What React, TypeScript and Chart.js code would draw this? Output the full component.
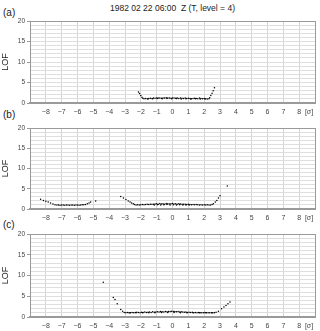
import { useEffect, useRef } from 'react';
import { Chart, registerables } from 'chart.js';

Chart.register(...registerables);

const TITLE = '1982 02 22 06:00  Z (T, level = 4)';
const PANEL_LABELS = ['(a)', '(b)', '(c)'];
const Y_TITLE = 'LOF';
const X_UNIT = '[σ]';
const X_MIN = -9;
const X_MAX = 9;
const Y_MIN = 0;
const Y_MAX = 20;
const Y_LABEL_STEP = 5;
const X_LABEL_LIMIT = 8;

// Panel (a)
const aX = [-2.15, -2.08, -2.0, -1.93, -1.87,
  -1.8, -1.7, -1.6, -1.5, -1.4, -1.3, -1.2, -1.1, -1.0, -0.9, -0.8, -0.7, -0.6, -0.5, -0.4, -0.3, -0.2, -0.1,
  0.0, 0.1, 0.2, 0.3, 0.4, 0.5, 0.6, 0.7, 0.8, 0.9, 1.0, 1.1, 1.2, 1.3, 1.4, 1.5, 1.6, 1.7, 1.8, 1.9, 2.0, 2.1, 2.2, 2.3,
  2.35, 2.42, 2.5, 2.57, 2.65,
  -1.55, -1.25, -0.95, -0.65, -0.35, -0.05, 0.25, 0.55, 0.85, 1.15, 1.45, 1.75, 2.05];
const aY = [2.7, 2.3, 1.8, 1.4, 1.15,
  1.05, 1.1, 1.05, 1.1, 1.15, 1.1, 1.2, 1.15, 1.2, 1.25, 1.2, 1.15, 1.25, 1.2, 1.3, 1.2, 1.25, 1.15,
  1.2, 1.25, 1.15, 1.2, 1.1, 1.2, 1.15, 1.1, 1.2, 1.1, 1.15, 1.1, 1.05, 1.1, 1.15, 1.1, 1.05, 1.2, 1.1, 1.05, 1.1, 1.05, 1.0, 1.05,
  1.3, 1.8, 2.4, 3.0, 3.7,
  1.0, 1.05, 1.1, 1.05, 1.1, 1.05, 1.1, 1.0, 1.05, 1.0, 1.05, 1.0, 1.0];

// Panel (b)
const bX = [-8.33, -8.15, -8.0, -7.85, -7.7, -7.55, -7.42,
  -7.3, -7.2, -7.1, -7.0, -6.9, -6.8, -6.7, -6.6, -6.5, -6.4, -6.3, -6.2, -6.1, -6.0, -5.9, -5.8, -5.7, -5.6, -5.5,
  -5.38, -5.27, -5.17, -4.85,
  -3.27, -3.1, -2.94, -2.8, -2.68, -2.58, -2.48, -2.4,
  -2.3, -2.2, -2.1, -2.0, -1.9, -1.8, -1.7, -1.6, -1.5, -1.4, -1.3, -1.2, -1.1, -1.0, -0.9, -0.8, -0.7, -0.6, -0.5, -0.4, -0.3, -0.2, -0.1,
  0.0, 0.1, 0.2, 0.3, 0.4, 0.5, 0.6, 0.7, 0.8, 0.9, 1.0, 1.1, 1.2, 1.3, 1.4, 1.5, 1.6, 1.7, 1.8, 1.9, 2.0, 2.1, 2.2, 2.3, 2.4,
  2.5, 2.58, 2.7, 2.8, 2.9, 3.0, 3.46,
  -1.15, -0.95, -0.75, -0.55, -0.35, -0.15, 0.05, 0.25, 0.45, 0.65, 0.85, 1.05];
const bY = [2.4, 2.1, 1.9, 1.7, 1.5, 1.25, 1.05,
  1.0, 1.0, 0.95, 1.0, 1.0, 0.95, 1.0, 1.0, 0.95, 1.0, 1.0, 0.95, 1.0, 1.0, 0.95, 1.0, 1.05, 1.05, 1.1,
  1.3, 1.5, 1.7, 2.0,
  3.1, 2.7, 2.35, 2.0, 1.7, 1.5, 1.3, 1.1,
  1.0, 1.05, 1.0, 1.05, 1.1, 1.05, 1.1, 1.15, 1.1, 1.2, 1.15, 1.2, 1.25, 1.3, 1.2, 1.35, 1.25, 1.3, 1.2, 1.35, 1.3, 1.25, 1.3,
  1.35, 1.25, 1.3, 1.2, 1.3, 1.25, 1.2, 1.15, 1.2, 1.1, 1.15, 1.1, 1.05, 1.1, 1.05, 1.1, 1.05, 1.0, 1.05, 1.0, 1.05, 1.0, 1.05, 1.0, 1.0,
  1.1, 1.3, 1.7, 2.1, 2.7, 3.3, 5.7,
  1.0, 1.05, 1.0, 1.05, 1.1, 1.0, 1.05, 1.0, 1.05, 1.0, 1.0, 1.0];

// Panel (c)
const cX = [-4.37, -3.74, -3.63, -3.49, -3.27, -3.15,
  -3.05, -2.95, -2.85, -2.75, -2.65, -2.55, -2.45, -2.35, -2.25, -2.15, -2.05, -1.95, -1.85, -1.75, -1.65, -1.55, -1.45, -1.35, -1.25, -1.15, -1.05,
  -0.95, -0.85, -0.75, -0.65, -0.55, -0.45, -0.35, -0.25, -0.15, -0.05, 0.05, 0.15, 0.25, 0.35, 0.45, 0.55, 0.65, 0.75, 0.85, 0.95,
  1.05, 1.15, 1.25, 1.35, 1.45, 1.55, 1.65, 1.75, 1.85, 1.95, 2.05, 2.15, 2.25, 2.35, 2.45, 2.55, 2.65,
  2.75, 2.9, 3.1, 3.25, 3.38, 3.5, 3.63,
  -2.7, -2.3, -1.9, -1.5, -1.1, -0.7, -0.3, 0.1, 0.5, 0.9, 1.3, 1.7, 2.1, 2.5];
const cY = [8.4, 4.7, 4.2, 3.2, 1.8, 1.4,
  1.1, 1.05, 1.1, 1.0, 1.05, 1.1, 1.05, 1.1, 1.15, 1.1, 1.05, 1.15, 1.1, 1.2, 1.1, 1.15, 1.2, 1.1, 1.25, 1.15, 1.2,
  1.25, 1.2, 1.3, 1.25, 1.2, 1.3, 1.25, 1.35, 1.3, 1.4, 1.35, 1.3, 1.25, 1.3, 1.2, 1.25, 1.2, 1.15, 1.2, 1.1,
  1.15, 1.1, 1.15, 1.05, 1.1, 1.05, 1.1, 1.05, 1.0, 1.05, 1.1, 1.05, 1.0, 1.05, 1.0, 1.05, 1.0,
  1.15, 1.4, 2.0, 2.4, 2.8, 3.2, 3.6,
  1.0, 1.0, 1.0, 1.05, 1.05, 1.1, 1.1, 1.1, 1.05, 1.0, 1.0, 1.0, 1.0, 1.0];

const PANELS = [
  { xs: aX, ys: aY, top: 14, height: 104, axisH: 15 },
  { xs: bX, ys: bY, top: 121, height: 103, axisH: 15 },
  { xs: cX, ys: cY, top: 227, height: 104, axisH: 14 },
];

const FONT = "'Liberation Sans', 'DejaVu Sans', sans-serif";

function fmt(v: number): string {
  return v < 0 ? '\u2212' + String(-v) : String(v);
}

const unitPlugin = {
  id: 'unitLabel',
  afterDraw(chart: any) {
    const { ctx, chartArea } = chart;
    ctx.save();
    ctx.font = `7px ${FONT}`;
    ctx.fillStyle = '#444';
    ctx.textAlign = 'center';
    ctx.textBaseline = 'middle';
    ctx.fillText(X_UNIT, chartArea.right - 6, chartArea.bottom + 9);
    ctx.restore();
  },
};

function Panel({ xs, ys, top, height, axisH }: { xs: number[]; ys: number[]; top: number; height: number; axisH: number }) {
  const ref = useRef<HTMLCanvasElement | null>(null);
  useEffect(() => {
    if (!ref.current) return;
    const chart = new Chart(ref.current, {
      type: 'scatter',
      data: {
        datasets: [
          {
            data: xs.map((x, i) => ({ x, y: ys[i] })),
            pointRadius: 0.75,
            pointBackgroundColor: '#000',
            pointBorderWidth: 0,
            showLine: false,
          },
        ],
      },
      options: {
        animation: false,
        responsive: false,
        maintainAspectRatio: false,
        layout: { padding: { top: 7, right: 5, left: 0, bottom: 0 } },
        plugins: { legend: { display: false }, tooltip: { enabled: false }, title: { display: false } },
        scales: {
          x: {
            type: 'linear',
            min: X_MIN,
            max: X_MAX,
            ticks: {
              stepSize: 1,
              autoSkip: false,
              maxRotation: 0,
              padding: 5,
              color: '#444',
              font: { size: 7, family: FONT },
              callback: (v: any) => (Math.abs(v) <= X_LABEL_LIMIT ? fmt(v) : ''),
            },
            grid: {
              drawTicks: false,
              color: (c: any) => (c.tick && Math.abs(c.tick.value) === X_MAX ? '#9a9a9a' : '#d4d4d4'),
              lineWidth: 1,
            },
            border: { display: true, color: '#9a9a9a', width: 2 },
            afterFit: (s: any) => {
              s.height = axisH;
            },
          },
          y: {
            min: Y_MIN,
            max: Y_MAX,
            ticks: {
              stepSize: 1,
              autoSkip: false,
              padding: 2,
              color: '#444',
              font: { size: 6.5, family: FONT },
              callback: (v: any) => (v % Y_LABEL_STEP === 0 ? String(v) : ''),
            },
            grid: {
              tickLength: 3,
              color: (c: any) => (c.tick && c.tick.value === Y_MAX ? '#9a9a9a' : '#dedede'),
              tickColor: (c: any) => (c.tick && c.tick.value % Y_LABEL_STEP === 0 ? '#9a9a9a' : 'rgba(0,0,0,0)'),
            },
            border: { display: true, color: '#9a9a9a', width: 1 },
            title: {
              display: true,
              text: Y_TITLE,
              color: '#222',
              font: { size: 9, family: FONT },
              padding: { top: 0, bottom: 3 },
            },
            afterFit: (s: any) => {
              s.width = 30;
            },
          },
        },
      },
      plugins: [unitPlugin],
    } as any);
    return () => chart.destroy();
  }, [xs, ys, axisH]);
  return (
    <canvas
      ref={ref}
      width={320}
      height={height}
      style={{ position: 'absolute', left: 0, top, width: 320, height }}
    />
  );
}

export default function App() {
  const labelTops = [7, 109, 219];
  return (
    <div style={{ position: 'absolute', left: 0, top: 0, width: 320, height: 331, background: '#fff', fontFamily: FONT, overflow: 'hidden' }}>
      <div style={{ position: 'absolute', left: 30, top: 3, width: 285, textAlign: 'center', fontSize: 8.5, lineHeight: '10px', color: '#222', whiteSpace: 'pre' }}>
        {TITLE}
      </div>
      {PANEL_LABELS.map((l, i) => (
        <div key={l} style={{ position: 'absolute', left: 3, top: labelTops[i], fontSize: 10, lineHeight: '12px', color: '#222' }}>
          {l}
        </div>
      ))}
      {PANELS.map((p, i) => (
        <Panel key={i} xs={p.xs} ys={p.ys} top={p.top} height={p.height} axisH={p.axisH} />
      ))}
    </div>
  );
}
